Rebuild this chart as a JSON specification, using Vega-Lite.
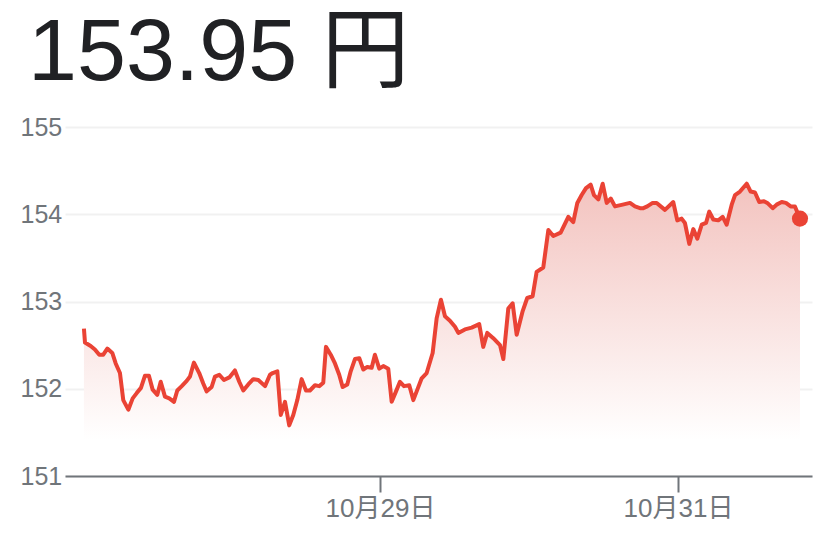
{
  "$schema": "https://vega.github.io/schema/vega-lite/v6.json",
  "autosize": "none",
  "width": 747,
  "height": 349,
  "padding": {"left": 65, "top": 127, "right": 15, "bottom": 57},
  "background": "white",
  "title": {
    "text": "153.95 円",
    "anchor": "start",
    "frame": "group",
    "dx": -37,
    "dy": 83,
    "offset": 30,
    "baseline": "alphabetic",
    "fontSize": 88,
    "fontWeight": "normal",
    "font": "Liberation Sans, Arial, Noto Sans CJK JP, sans-serif",
    "color": "#202124"
  },
  "data": {
    "values": [
      {"t": "2024-10-27T00:19", "p": 152.69},
      {"t": "2024-10-27T00:29", "p": 152.53},
      {"t": "2024-10-27T01:24", "p": 152.49},
      {"t": "2024-10-27T02:05", "p": 152.45},
      {"t": "2024-10-27T02:47", "p": 152.39},
      {"t": "2024-10-27T03:26", "p": 152.39},
      {"t": "2024-10-27T04:05", "p": 152.46},
      {"t": "2024-10-27T04:53", "p": 152.41},
      {"t": "2024-10-27T05:26", "p": 152.29},
      {"t": "2024-10-27T06:07", "p": 152.18},
      {"t": "2024-10-27T06:39", "p": 151.87},
      {"t": "2024-10-27T07:28", "p": 151.76},
      {"t": "2024-10-27T08:10", "p": 151.89},
      {"t": "2024-10-27T08:49", "p": 151.95},
      {"t": "2024-10-27T09:30", "p": 152.01},
      {"t": "2024-10-27T10:09", "p": 152.15},
      {"t": "2024-10-27T10:47", "p": 152.15},
      {"t": "2024-10-27T11:23", "p": 151.99},
      {"t": "2024-10-27T12:08", "p": 151.93},
      {"t": "2024-10-27T12:41", "p": 152.08},
      {"t": "2024-10-27T13:22", "p": 151.91},
      {"t": "2024-10-27T14:04", "p": 151.89},
      {"t": "2024-10-27T14:49", "p": 151.85},
      {"t": "2024-10-27T15:21", "p": 151.98},
      {"t": "2024-10-27T16:04", "p": 152.03},
      {"t": "2024-10-27T16:52", "p": 152.09},
      {"t": "2024-10-27T17:24", "p": 152.14},
      {"t": "2024-10-27T18:02", "p": 152.30},
      {"t": "2024-10-27T18:53", "p": 152.18},
      {"t": "2024-10-27T19:32", "p": 152.06},
      {"t": "2024-10-27T20:05", "p": 151.97},
      {"t": "2024-10-27T20:53", "p": 152.02},
      {"t": "2024-10-27T21:25", "p": 152.14},
      {"t": "2024-10-27T22:07", "p": 152.16},
      {"t": "2024-10-27T22:52", "p": 152.10},
      {"t": "2024-10-27T23:44", "p": 152.13},
      {"t": "2024-10-28T00:38", "p": 152.21},
      {"t": "2024-10-28T01:20", "p": 152.08},
      {"t": "2024-10-28T01:59", "p": 151.98},
      {"t": "2024-10-28T02:47", "p": 152.05},
      {"t": "2024-10-28T03:35", "p": 152.11},
      {"t": "2024-10-28T04:24", "p": 152.10},
      {"t": "2024-10-28T05:29", "p": 152.03},
      {"t": "2024-10-28T06:17", "p": 152.16},
      {"t": "2024-10-28T06:43", "p": 152.18},
      {"t": "2024-10-28T07:28", "p": 152.20},
      {"t": "2024-10-28T08:01", "p": 151.70},
      {"t": "2024-10-28T08:42", "p": 151.85},
      {"t": "2024-10-28T09:23", "p": 151.58},
      {"t": "2024-10-28T10:02", "p": 151.70},
      {"t": "2024-10-28T10:41", "p": 151.87},
      {"t": "2024-10-28T11:23", "p": 152.11},
      {"t": "2024-10-28T12:05", "p": 151.98},
      {"t": "2024-10-28T12:43", "p": 151.98},
      {"t": "2024-10-28T13:32", "p": 152.04},
      {"t": "2024-10-28T14:13", "p": 152.03},
      {"t": "2024-10-28T14:52", "p": 152.07},
      {"t": "2024-10-28T15:18", "p": 152.48},
      {"t": "2024-10-28T16:04", "p": 152.39},
      {"t": "2024-10-28T16:45", "p": 152.29},
      {"t": "2024-10-28T17:26", "p": 152.16},
      {"t": "2024-10-28T17:59", "p": 152.02},
      {"t": "2024-10-28T18:44", "p": 152.05},
      {"t": "2024-10-28T19:17", "p": 152.20},
      {"t": "2024-10-28T19:58", "p": 152.34},
      {"t": "2024-10-28T20:40", "p": 152.35},
      {"t": "2024-10-28T21:19", "p": 152.22},
      {"t": "2024-10-28T21:57", "p": 152.25},
      {"t": "2024-10-28T22:40", "p": 152.24},
      {"t": "2024-10-28T23:11", "p": 152.39},
      {"t": "2024-10-28T23:53", "p": 152.23},
      {"t": "2024-10-29T00:32", "p": 152.26},
      {"t": "2024-10-29T01:20", "p": 152.23},
      {"t": "2024-10-29T01:53", "p": 151.85},
      {"t": "2024-10-29T02:35", "p": 151.97},
      {"t": "2024-10-29T03:13", "p": 152.08},
      {"t": "2024-10-29T03:52", "p": 152.03},
      {"t": "2024-10-29T04:43", "p": 152.04},
      {"t": "2024-10-29T05:22", "p": 151.87},
      {"t": "2024-10-29T06:01", "p": 151.99},
      {"t": "2024-10-29T06:43", "p": 152.12},
      {"t": "2024-10-29T07:31", "p": 152.18},
      {"t": "2024-10-29T08:29", "p": 152.41},
      {"t": "2024-10-29T09:08", "p": 152.81},
      {"t": "2024-10-29T09:49", "p": 153.02},
      {"t": "2024-10-29T10:28", "p": 152.83},
      {"t": "2024-10-29T11:16", "p": 152.78},
      {"t": "2024-10-29T12:05", "p": 152.71},
      {"t": "2024-10-29T12:37", "p": 152.64},
      {"t": "2024-10-29T13:41", "p": 152.68},
      {"t": "2024-10-29T14:46", "p": 152.70},
      {"t": "2024-10-29T15:59", "p": 152.74},
      {"t": "2024-10-29T16:38", "p": 152.48},
      {"t": "2024-10-29T17:17", "p": 152.64},
      {"t": "2024-10-29T18:15", "p": 152.58},
      {"t": "2024-10-29T19:20", "p": 152.50},
      {"t": "2024-10-29T19:52", "p": 152.34},
      {"t": "2024-10-29T20:40", "p": 152.92},
      {"t": "2024-10-29T21:22", "p": 152.98},
      {"t": "2024-10-29T22:01", "p": 152.62},
      {"t": "2024-10-29T22:59", "p": 152.89},
      {"t": "2024-10-29T23:43", "p": 153.04},
      {"t": "2024-10-30T00:35", "p": 153.06},
      {"t": "2024-10-30T01:14", "p": 153.34},
      {"t": "2024-10-30T02:18", "p": 153.39},
      {"t": "2024-10-30T03:07", "p": 153.82},
      {"t": "2024-10-30T03:55", "p": 153.75},
      {"t": "2024-10-30T05:06", "p": 153.79},
      {"t": "2024-10-30T06:20", "p": 153.97},
      {"t": "2024-10-30T07:08", "p": 153.91},
      {"t": "2024-10-30T07:47", "p": 154.13},
      {"t": "2024-10-30T08:29", "p": 154.22},
      {"t": "2024-10-30T09:11", "p": 154.30},
      {"t": "2024-10-30T09:56", "p": 154.34},
      {"t": "2024-10-30T10:28", "p": 154.22},
      {"t": "2024-10-30T11:10", "p": 154.17},
      {"t": "2024-10-30T11:52", "p": 154.35},
      {"t": "2024-10-30T12:31", "p": 154.13},
      {"t": "2024-10-30T13:10", "p": 154.18},
      {"t": "2024-10-30T13:51", "p": 154.09},
      {"t": "2024-10-30T15:05", "p": 154.11},
      {"t": "2024-10-30T16:16", "p": 154.13},
      {"t": "2024-10-30T17:04", "p": 154.09},
      {"t": "2024-10-30T17:53", "p": 154.07},
      {"t": "2024-10-30T18:25", "p": 154.07},
      {"t": "2024-10-30T19:03", "p": 154.09},
      {"t": "2024-10-30T19:55", "p": 154.13},
      {"t": "2024-10-30T20:34", "p": 154.13},
      {"t": "2024-10-30T21:54", "p": 154.05},
      {"t": "2024-10-30T23:14", "p": 154.14},
      {"t": "2024-10-30T23:53", "p": 153.93},
      {"t": "2024-10-31T00:35", "p": 153.95},
      {"t": "2024-10-31T01:07", "p": 153.90},
      {"t": "2024-10-31T01:49", "p": 153.66},
      {"t": "2024-10-31T02:28", "p": 153.83},
      {"t": "2024-10-31T03:07", "p": 153.72},
      {"t": "2024-10-31T03:49", "p": 153.88},
      {"t": "2024-10-31T04:31", "p": 153.90},
      {"t": "2024-10-31T05:02", "p": 154.03},
      {"t": "2024-10-31T05:41", "p": 153.94},
      {"t": "2024-10-31T06:29", "p": 153.93},
      {"t": "2024-10-31T07:12", "p": 153.97},
      {"t": "2024-10-31T07:50", "p": 153.88},
      {"t": "2024-10-31T08:39", "p": 154.11},
      {"t": "2024-10-31T09:11", "p": 154.22},
      {"t": "2024-10-31T09:59", "p": 154.26},
      {"t": "2024-10-31T11:04", "p": 154.35},
      {"t": "2024-10-31T11:42", "p": 154.26},
      {"t": "2024-10-31T12:24", "p": 154.25},
      {"t": "2024-10-31T13:05", "p": 154.14},
      {"t": "2024-10-31T13:51", "p": 154.15},
      {"t": "2024-10-31T14:23", "p": 154.13},
      {"t": "2024-10-31T15:15", "p": 154.07},
      {"t": "2024-10-31T15:53", "p": 154.11},
      {"t": "2024-10-31T16:42", "p": 154.14},
      {"t": "2024-10-31T17:23", "p": 154.13},
      {"t": "2024-10-31T18:09", "p": 154.09},
      {"t": "2024-10-31T18:50", "p": 154.09},
      {"t": "2024-10-31T19:39", "p": 153.95}
    ]
  },
  "encoding": {
    "x": {
      "field": "t",
      "type": "temporal",
      "title": null,
      "scale": {
        "domain": [
          {"year": 2024, "month": 10, "date": 26, "hours": 21, "minutes": 16},
          {"year": 2024, "month": 10, "date": 31, "hours": 21, "minutes": 35}
        ]
      },
      "axis": {
        "values": [
          {"year": 2024, "month": 10, "date": 29},
          {"year": 2024, "month": 10, "date": 31}
        ],
        "format": "%-m月%-d日",
        "formatType": "time",
        "grid": false,
        "labelFont": "Liberation Sans, Arial, Noto Sans CJK JP, sans-serif",
        "labelFontSize": 26,
        "labelColor": "#70757a",
        "labelPadding": 3,
        "domainColor": "#70757a",
        "domainWidth": 2,
        "tickColor": "#70757a",
        "tickWidth": 2,
        "tickSize": 16
      }
    },
    "y": {
      "field": "p",
      "type": "quantitative",
      "title": null,
      "scale": {"domain": [151, 155], "zero": false, "nice": false},
      "axis": {
        "values": [151, 152, 153, 154, 155],
        "labelAlign": "left",
        "labelPadding": 45,
        "ticks": false,
        "tickSize": 0,
        "domain": false,
        "grid": true,
        "gridColor": "#f1f1f1",
        "gridWidth": 2,
        "labelFont": "Liberation Sans, Arial, sans-serif",
        "labelFontSize": 25,
        "labelColor": "#70757a"
      }
    }
  },
  "layer": [
    {
      "mark": {
        "type": "area",
        "color": {
          "gradient": "linear",
          "x1": 0, "y1": 0, "x2": 0, "y2": 1,
          "stops": [
            {"offset": 0, "color": "#f3c3bf"},
            {"offset": 1, "color": "#ffffff"}
          ]
        }
      },
      "encoding": {"y2": {"datum": 151.41}}
    },
    {
      "mark": {"type": "line", "color": "#ea4335", "strokeWidth": 4, "strokeJoin": "round"}
    },
    {
      "transform": [
        {"filter": {"field": "t", "equal": {"year": 2024, "month": 10, "date": 31, "hours": 19, "minutes": 39}}}
      ],
      "mark": {"type": "circle", "color": "#ea4335", "opacity": 1, "size": 260}
    }
  ],
  "config": {
    "view": {"stroke": null}
  }
}
